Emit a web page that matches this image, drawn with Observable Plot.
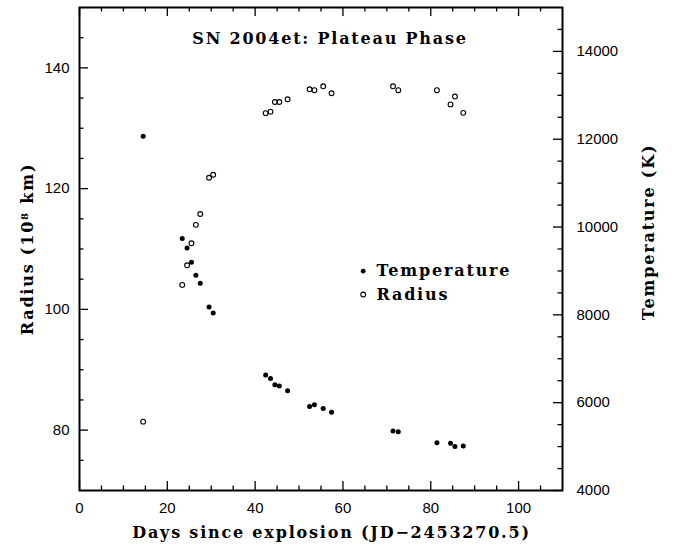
<!DOCTYPE html>
<html>
<head>
<meta charset="utf-8">
<script src="https://cdn.jsdelivr.net/npm/d3@7"></script>
<script src="https://cdn.jsdelivr.net/npm/@observablehq/plot@0.6"></script>
<style>
  html, body { margin: 0; padding: 0; background: #fff; }
  #chart svg { display: block; }
  #chart g[font-family*="DejaVu"] text { letter-spacing: 1.8px; }
</style>
</head>
<body>
<div id="chart"></div>
<script>
// Days since explosion
const days = [14.5, 23.4, 24.5, 25.5, 26.5, 27.5, 29.5, 30.45, 42.4, 43.5, 44.5, 45.5, 47.4,
              52.4, 53.5, 55.5, 57.4, 71.4, 72.6, 81.4, 84.5, 85.5, 87.4];
// Temperature (K), filled circles
const temperature = [12070, 9740, 9520, 9200, 8900, 8720, 8180, 8045, 6630, 6550, 6410, 6380, 6270,
                     5915, 5955, 5870, 5780, 5357, 5340, 5085, 5075, 5000, 5015];
// Radius (10^8 km), open circles
const radius = [81.4, 104.05, 107.3, 110.95, 114.0, 115.8, 121.8, 122.3, 132.5, 132.75, 134.35, 134.35, 134.8,
                136.45, 136.3, 136.95, 135.8, 136.95, 136.3, 136.3, 133.95, 135.25, 132.55];

const xMajorTicks = [0, 20, 40, 60, 80, 100];
const xMinorTicks = [5, 10, 15, 25, 30, 35, 45, 50, 55, 65, 70, 75, 85, 90, 95, 105];
const rMajorTicks = [80, 100, 120, 140];
const rMinorTicks = [75, 85, 90, 95, 105, 110, 115, 125, 130, 135, 145];
const tMajorTicks = [4000, 6000, 8000, 10000, 12000, 14000];
const tMinorTicks = [4500, 5000, 5500, 6500, 7000, 7500, 8500, 9000, 9500, 10500, 11000, 11500, 12500, 13000, 13500, 14500];

const titleText = ["SN 2004et: Plateau Phase"];
const xLabel = ["Days since explosion (JD\u22122453270.5)"];
const rLabel = ["Radius (10\u2078 km)"];
const tLabel = ["Temperature (K)"];
const legendTemp = ["Temperature"];
const legendRad = ["Radius"];

const W = 675, H = 548;
const mL = 79, mR = 113, mT = 7, mB = 58;
const pw = W - mL - mR, ph = H - mT - mB;

// secondary (temperature) axis mapped into the radius coordinate
const tempToR = d3.scaleLinear().domain([4000, 15000]).range([70, 150]);

const tempData = days.map((d, i) => ({day: d, T: temperature[i]}));
const radData = days.map((d, i) => ({day: d, R: radius[i]}));

const serif = "'DejaVu Serif', serif";
const MAJ = 9, MIN = 4.5, TW = 1.3;

const chart = Plot.plot({
  width: W, height: H,
  marginLeft: mL, marginRight: mR, marginTop: mT, marginBottom: mB,
  style: {fontFamily: "'Liberation Sans', Arial, sans-serif", fontSize: "15px", color: "#000", background: "#fff"},
  x: {domain: [0, 110]},
  y: {domain: [70, 150]},
  marks: [
    // tick labels
    Plot.axisX(xMajorTicks, {anchor: "bottom", tickSize: 0, tickPadding: 12, label: null, fontSize: 15}),
    Plot.axisY(rMajorTicks, {anchor: "left", tickSize: 0, tickPadding: 10, label: null, fontSize: 15}),
    Plot.axisY(tMajorTicks.map(t => tempToR(t)), {anchor: "right", tickSize: 0, tickPadding: 14, label: null, fontSize: 15,
      tickFormat: r => String(Math.round(tempToR.invert(r) / 100) * 100)}),
    // inward ticks: bottom & top
    Plot.tickX(xMajorTicks, {x: d => d, insetTop: ph - MAJ, strokeWidth: TW}),
    Plot.tickX(xMinorTicks, {x: d => d, insetTop: ph - MIN, strokeWidth: TW}),
    Plot.tickX(xMajorTicks, {x: d => d, insetBottom: ph - MAJ, strokeWidth: TW}),
    Plot.tickX(xMinorTicks, {x: d => d, insetBottom: ph - MIN, strokeWidth: TW}),
    // left ticks (radius)
    Plot.tickY(rMajorTicks, {y: d => d, insetRight: pw - MAJ, strokeWidth: TW}),
    Plot.tickY(rMinorTicks, {y: d => d, insetRight: pw - MIN, strokeWidth: TW}),
    // right ticks (temperature)
    Plot.tickY(tMajorTicks, {y: d => tempToR(d), insetLeft: pw - MAJ, strokeWidth: TW}),
    Plot.tickY(tMinorTicks, {y: d => tempToR(d), insetLeft: pw - MIN, strokeWidth: TW}),
    Plot.frame({stroke: "#000", strokeWidth: 2}),
    // data
    Plot.dot(tempData, {x: "day", y: d => tempToR(d.T), r: 2.5, fill: "#000", stroke: "none"}),
    Plot.dot(radData, {x: "day", y: "R", r: 2.4, fill: "none", stroke: "#000", strokeWidth: 1.1}),
    // title
    Plot.text(titleText, {frameAnchor: "top", dx: 9, dy: 31, text: d => d, fontFamily: serif, fontWeight: "bold",
      fontSize: 16, lineAnchor: "middle", textAnchor: "middle"}),
    // legend
    Plot.dot(legendTemp, {frameAnchor: "top-left", dx: 283.7, dy: 263.7, r: 2.4, fill: "#000", stroke: "none"}),
    Plot.dot(legendRad, {frameAnchor: "top-left", dx: 283.7, dy: 287, r: 2.4, fill: "none", stroke: "#000", strokeWidth: 1.1}),
    Plot.text(legendTemp, {frameAnchor: "top-left", dx: 297, dy: 263.7, text: d => d, fontFamily: serif, fontWeight: "bold",
      fontSize: 16, lineAnchor: "middle", textAnchor: "start"}),
    Plot.text(legendRad, {frameAnchor: "top-left", dx: 297, dy: 287, text: d => d, fontFamily: serif, fontWeight: "bold",
      fontSize: 16, lineAnchor: "middle", textAnchor: "start"}),
    // axis titles
    Plot.text(xLabel, {frameAnchor: "bottom", dx: 10.5, dy: 42, text: d => d, fontFamily: serif, fontWeight: "bold",
      fontSize: 16, lineAnchor: "middle", textAnchor: "middle"}),
    Plot.text(rLabel, {frameAnchor: "left", dx: -52, dy: 0, rotate: -90, text: d => d, fontFamily: serif, fontWeight: "bold",
      fontSize: 16, lineAnchor: "middle", textAnchor: "middle"}),
    Plot.text(tLabel, {frameAnchor: "right", dx: 86, dy: -17, rotate: -90, text: d => d, fontFamily: serif, fontWeight: "bold",
      fontSize: 16, lineAnchor: "middle", textAnchor: "middle"})
  ]
});
document.getElementById("chart").appendChild(chart);
</script>
</body>
</html>
